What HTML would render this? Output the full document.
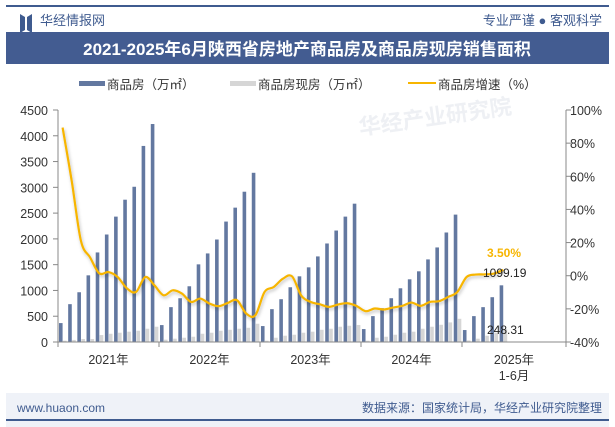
<!DOCTYPE html>
<html><head><meta charset="utf-8">
<style>
body{margin:0;background:#fff;}
#w{position:relative;width:615px;height:427px;overflow:hidden;font-family:"Liberation Sans","Noto Sans CJK SC",sans-serif;background:#fff;}
svg text{font-family:"Liberation Sans","Noto Sans CJK SC",sans-serif;}
</style></head>
<body>
<div id="w">
<svg id="s" width="615" height="427" xmlns="http://www.w3.org/2000/svg">
<defs><filter id="sh" x="-5%" y="-5%" width="110%" height="120%"><feDropShadow dx="1" dy="2" stdDeviation="1.5" flood-color="#000" flood-opacity="0.25"/></filter></defs>
<rect x="6" y="5" width="603" height="2" fill="#3f5b8f"/>
<g>
<path d="M20 14 L25 17 L25 30 L20 33 Z M32 14 L27 17 L27 30 L32 33 Z" fill="#3f5b8f"/>
<text x="40" y="25" font-size="13" fill="#3f5b8f">华经情报网</text>
</g>
<text x="602" y="25" font-size="13" fill="#3f5b8f" text-anchor="end">专业严谨 ● 客观科学</text>
<rect x="6" y="32" width="603" height="32" fill="#435c91"/>
<text x="307" y="55" font-size="17" font-weight="bold" fill="#fff" text-anchor="middle" font-family="Liberation Serif,Noto Serif CJK SC,serif">2021-2025年6月陕西省房地产商品房及商品房现房销售面积</text>
<g>
<g><rect x="79" y="81" width="26" height="5" fill="#6378a0"/><text x="107" y="89" font-size="12.5" fill="#333">商品房（万㎡）</text></g>
<g><rect x="230" y="81" width="26" height="5" fill="#d6d6d6"/><text x="258" y="89" font-size="12.5" fill="#333">商品房现房（万㎡）</text></g>
<g><rect x="408" y="82" width="28" height="2" fill="#f7b500"/><text x="438" y="89" font-size="12.5" fill="#333">商品房增速（%）</text></g>
</g>
<g id="plot"></g>
<rect x="6" y="393" width="603" height="34" fill="#eff2f8"/>
<rect x="6" y="419" width="603" height="2" fill="#3f5b8f"/>
<text x="17" y="412" font-size="12" fill="#3f5b8f">www.huaon.com</text>
<text x="602" y="412" font-size="12" fill="#3f5b8f" text-anchor="end">数据来源：国家统计局，华经产业研究院整理</text>
</svg>
</div>
<script>
const years = ["2021年","2022年","2023年","2024年","2025年"];
const salesArea = [367,734,965,1293,1737,2085,2432,2760,3011,3803,4228,
328,676,849,1081,1506,1718,1988,2336,2606,2915,3282,
309,637,830,1062,1274,1448,1660,1911,2162,2432,2683,
251,502,656,849,1042,1216,1371,1602,1834,2124,2471,
232,502,676,869,1099.19];
const existingArea = [25,40,58,58,135,160,180,200,218,257,296,
45,64,83,102,160,180,218,237,257,276,354,
25,83,122,141,180,200,237,257,296,315,330,
25,83,102,141,180,200,257,296,334,380,450,
30,64,122,180,248.31];
const growthRate = [89.4,57,21,11,1.4,2.2,-0.8,-7.6,-9.8,-0.8,-5.8,
-11.8,-8.8,-10.8,-15.8,-13.8,-16.8,-18.4,-16.4,-14.8,-22.8,-23.8,
-9.8,-6.8,-1.8,-0.4,-12,-15.8,-17.2,-18.8,-17.4,-16.6,-18.2,
-21.4,-19.8,-20.4,-19.2,-18.2,-16.2,-18.2,-15.8,-15.4,-12.8,-9.8,
-0.8,0.7,0.8,1.3,3.5];
const leftTicks = [0,500,1000,1500,2000,2500,3000,3500,4000,4500];
const rightTicks = [-40,-20,0,20,40,60,80,100];

const NS="http://www.w3.org/2000/svg";
const plot=document.getElementById('plot');
const X0=58,X1=566,Y0=342,Y1=110,STEP=9.18;
const yL=v=>Y0-(v/4500)*(Y0-Y1);
const yR=v=>Y0-((v+40)/140)*(Y0-Y1);
const xC=i=>X0+(i+0.5)*STEP;
function mk(tag,at,parent){const e=document.createElementNS(NS,tag);for(const k in at)e.setAttribute(k,at[k]);(parent||plot).appendChild(e);return e;}

// watermark
const wm=mk('text',{x:360,y:135,'font-size':22,fill:'#eef0f4','font-weight':'bold',transform:'rotate(-8 360 135)'});


wm.textContent='华经产业研究院';

// axes
const ax=mk('line',{x1:X0,y1:Y1,x2:X0,y2:Y0,stroke:'#888'});


const ax2=mk('line',{x1:X1,y1:Y1,x2:X1,y2:Y0,stroke:'#888'});


leftTicks.forEach(v=>{
 const y=yL(v);
 mk('line',{x1:X0-5,y1:y,x2:X0,y2:y,stroke:'#888'});
 const t=mk('text',{x:48,y:y+5,'font-size':12.5,fill:'#333','text-anchor':'end'});
 
 
 t.textContent=v;
});
rightTicks.forEach(v=>{
 const y=yR(v);
 mk('line',{x1:X1,y1:y,x2:X1+5,y2:y,stroke:'#888'});
 const t=mk('text',{x:570,y:y+5,'font-size':12.5,fill:'#333'});
 
 
 t.textContent=v+'%';
});

// bars
salesArea.forEach((v,i)=>{
 const x=xC(i);
 const b=mk('rect',{x:x-3.6,y:yL(v),width:3.6,height:Y0-yL(v),fill:'#6378a0'});
 
 
 const g=existingArea[i];
 const c=mk('rect',{x:x+0.4,y:yL(g),width:3.6,height:Y0-yL(g),fill:'#d6d6d6'});
 
 
});
const xa=mk('line',{x1:X0,y1:Y0,x2:X1,y2:Y0,stroke:'#888'});


const counts=[11,11,11,11];
let idx=0;const bounds=[X0];
counts.forEach(c=>{idx+=c;bounds.push(X0+idx*STEP+(idx/11)*0.02);});
bounds.push(X1);
bounds.forEach(b=>mk('line',{x1:b,y1:Y0,x2:b,y2:Y0+5,stroke:'#888'}));
years.forEach((y,i)=>{
 const cx=(bounds[i]+bounds[i+1])/2;
 const t=mk('text',{x:cx,y:364,'font-size':12.5,fill:'#333','text-anchor':'middle'});
 
 
 t.textContent=y;
 if(i===4){const t2=mk('text',{x:cx,y:380,'font-size':12.5,fill:'#333','text-anchor':'middle'});
 
 
 t2.textContent='1-6月';}
});

// line (catmull-rom)
const pts=growthRate.map((v,i)=>[xC(i),yR(v)]);
let d='M'+pts[0][0]+' '+pts[0][1];
for(let i=0;i<pts.length-1;i++){
 const p0=pts[i-1]||pts[i],p1=pts[i],p2=pts[i+1],p3=pts[i+2]||p2;
 const c1=[p1[0]+(p2[0]-p0[0])/6,p1[1]+(p2[1]-p0[1])/6];
 const c2=[p2[0]-(p3[0]-p1[0])/6,p2[1]-(p3[1]-p1[1])/6];
 d+=` C${c1[0]} ${c1[1]} ${c2[0]} ${c2[1]} ${p2[0]} ${p2[1]}`;
}
const ln=mk('path',{d:d,fill:'none',stroke:'#f7b500','stroke-width':2.2,filter:'url(#sh)'});



// labels
const n=salesArea.length-1;
const l1=mk('text',{x:487,y:257,'font-size':12,'font-weight':'bold',fill:'#f7b500'});


l1.textContent=growthRate[n].toFixed(2)+'%';
const l2=mk('text',{x:483,y:277,'font-size':12,fill:'#222'});


l2.textContent=salesArea[n].toFixed(2);
const l3=mk('text',{x:487,y:334,'font-size':12,fill:'#222'});


l3.textContent=existingArea[n].toFixed(2);
</script>
</body></html>
